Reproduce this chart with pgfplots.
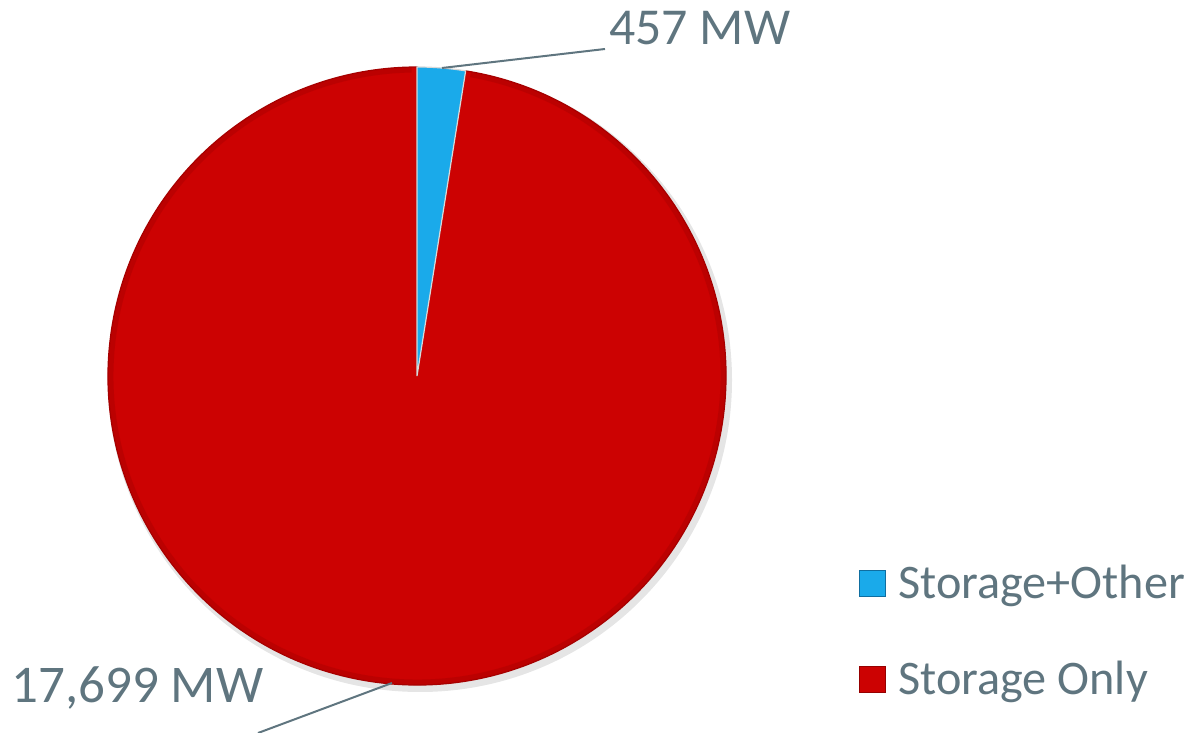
\documentclass[border=0pt]{standalone}
\usepackage{pgfplots}
\usepackage{pgfplotstable}
\usepackage{fontspec}
\setmainfont{Carlito}
\pgfplotsset{compat=1.18}
\definecolor{pred}{RGB}{204,2,2}
\definecolor{preddark}{RGB}{150,0,0}
\definecolor{pblue}{RGB}{26,170,234}
\definecolor{pbluedark}{RGB}{15,110,160}
\definecolor{ltxt}{RGB}{95,117,127}
\pgfplotstableread{
name value
StorageOther 457
StorageOnly 17699
}\piedata
\begin{document}
\begin{tikzpicture}
\pgfplotstablegetelem{0}{value}\of\piedata \let\va\pgfplotsretval
\pgfplotstablegetelem{1}{value}\of\piedata \let\vb\pgfplotsretval
\pgfkeys{/pgf/fpu=true,/pgf/fpu/output format=fixed}
\pgfmathsetmacro\angA{90-360*\va/(\va+\vb)}
\pgfkeys{/pgf/fpu=false}
\begin{axis}[width=595bp,height=366.5bp,scale only axis,
  xmin=0,xmax=1190,ymin=0,ymax=733,hide axis,clip=false,
  legend style={at={(axis cs:859,172)},anchor=north west,draw=none,fill=none,
    font=\fontsize{24.2}{29}\selectfont,text=ltxt,row sep=25.5bp,
    cells={anchor=west},inner sep=0pt,
    /tikz/every odd column/.append style={column sep=4bp}},
  legend image code/.code={\draw[#1,line width=0.5pt] (0bp,-6.5bp) rectangle (13bp,6.5bp);},
]
\coordinate (bl) at (axis cs:0,0);
\coordinate (tr) at (axis cs:1190,733);
\addlegendimage{fill=pblue,draw=pbluedark}
\addlegendentry{Storage+Other}
\addlegendimage{fill=pred,draw=preddark}
\addlegendentry{Storage Only}
% soft shadow
\fill[black!10] (axis cs:420,353) circle[radius=156bp];
\fill[pred,draw=preddark!70!pred,line width=0.6bp] (axis cs:417,357) -- ++(\angA:154.5bp) arc[start angle=\angA,end angle=-270,radius=154.5bp] -- cycle;
\fill[pblue,draw=white!70!gray,line width=0.6bp] (axis cs:417,357) -- ++(90:154.5bp) arc[start angle=90,end angle=\angA,radius=154.5bp] -- cycle;
\draw[preddark,line width=2.5bp,opacity=0.3] (axis cs:417,357) ++(\angA-1:153bp) arc[start angle=\angA-1,end angle=-269,radius=153bp];
\draw[ltxt,line width=1bp] (axis cs:442,665) -- (axis cs:605,684);
\draw[ltxt,line width=1bp] (axis cs:392,50) -- (axis cs:258,0);
\node[anchor=base west,inner sep=0pt,font=\fontsize{26}{30}\selectfont,text=ltxt] at (axis cs:609,688) {457 MW};
\node[anchor=base west,inner sep=0pt,font=\fontsize{26.6}{30}\selectfont,text=ltxt] at (axis cs:11,31) {17,699 MW};
\end{axis}
\pgfresetboundingbox
\useasboundingbox (bl) rectangle (tr);
\end{tikzpicture}
\end{document}
